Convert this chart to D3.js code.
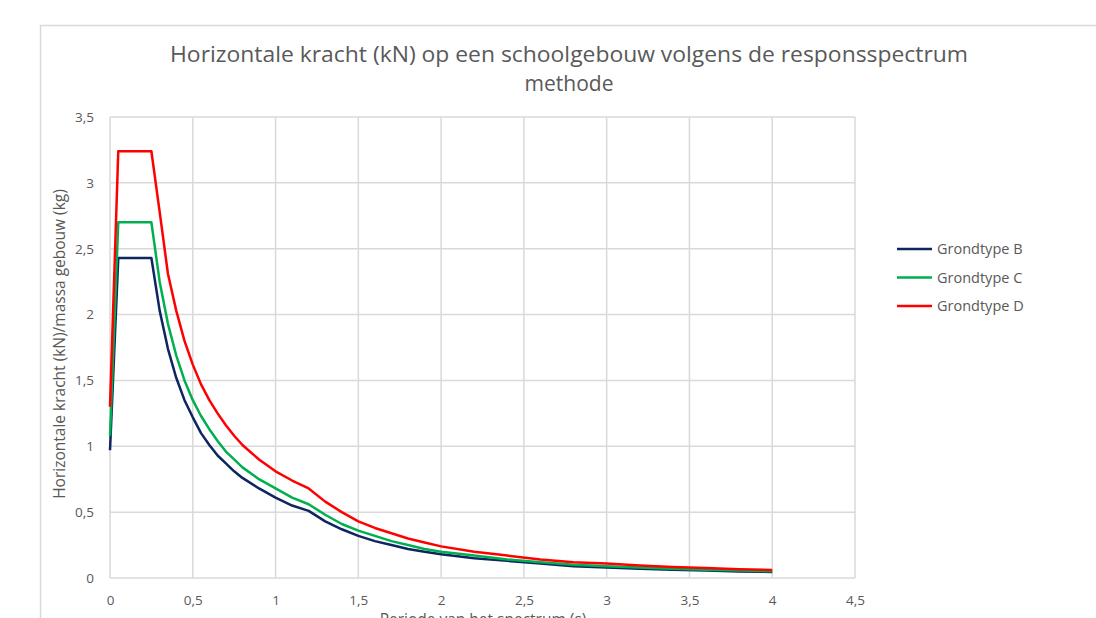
<!DOCTYPE html>
<html>
<head>
<meta charset="utf-8">
<script src="https://cdn.jsdelivr.net/npm/d3@7"></script>
<style>
    body { margin: 0; background: #fff; }
    svg text { font-family: "Open Sans", sans-serif; fill: #595959; }
</style>
</head>
<body>
<script>
// periode T (s)
const periods = [0, 0.05, 0.25, 0.3, 0.35, 0.4, 0.45, 0.5, 0.55, 0.6, 0.65, 0.7, 0.75, 0.8, 0.9,
    1.0, 1.1, 1.2, 1.3, 1.4, 1.5, 1.6, 1.7, 1.8, 1.9, 2.0, 2.2, 2.4, 2.6, 2.8, 3.0, 3.2, 3.4, 3.6, 3.8, 4.0];

// kracht / massa per grondtype
const grondtypeB = [0.97, 2.43, 2.43, 2.03, 1.74, 1.52, 1.35, 1.22, 1.10, 1.01, 0.93, 0.87, 0.81, 0.76, 0.68,
    0.61, 0.55, 0.51, 0.43, 0.37, 0.32, 0.28, 0.25, 0.22, 0.20, 0.18, 0.15, 0.13, 0.11, 0.09, 0.08, 0.07, 0.063, 0.056, 0.050, 0.046];
const grondtypeC = [1.08, 2.70, 2.70, 2.25, 1.93, 1.69, 1.50, 1.35, 1.23, 1.13, 1.04, 0.96, 0.90, 0.84, 0.75,
    0.68, 0.61, 0.56, 0.48, 0.41, 0.36, 0.32, 0.28, 0.25, 0.22, 0.20, 0.17, 0.14, 0.12, 0.10, 0.09, 0.08, 0.070, 0.063, 0.056, 0.051];
const grondtypeD = [1.30, 3.24, 3.24, 2.78, 2.31, 2.03, 1.80, 1.62, 1.47, 1.35, 1.25, 1.16, 1.08, 1.01, 0.90,
    0.81, 0.74, 0.68, 0.58, 0.50, 0.43, 0.38, 0.34, 0.30, 0.27, 0.24, 0.20, 0.17, 0.14, 0.12, 0.11, 0.095, 0.084, 0.075, 0.067, 0.061];

const seriesNames = ["Grondtype B", "Grondtype C", "Grondtype D"];
const seriesColors = ["#0d2560", "#00b050", "#ff0000"];

const xTicks = [0, 0.5, 1, 1.5, 2, 2.5, 3, 3.5, 4, 4.5];
const yTicks = [0, 0.5, 1, 1.5, 2, 2.5, 3, 3.5];

const titleLines = ["Horizontale kracht (kN) op een schoolgebouw volgens de responsspectrum", "methode"];
const xTitle = "Periode van het spectrum (s)";
const yTitle = "Horizontale kracht (kN)/massa gebouw (kg)";

const width = 1096;
const height = 618;
const plot = { left: 110, right: 855, top: 117, bottom: 578 };

// Nederlandse notatie: komma als decimaalteken
const nl = d3.formatLocale({ decimal: ",", thousands: ".", grouping: [3], currency: ["€", ""] });
const fmt = nl.format("~g");

const svg = d3.select("body").append("svg")
    .attr("width", width)
    .attr("height", height);

// rand van het grafiekgebied
svg.append("path")
    .attr("d", `M40.5,${height}V25.5H${width}`)
    .attr("fill", "none")
    .attr("stroke", "#d9d9d9")
    .attr("stroke-width", 1.5);

const x = d3.scaleLinear().domain([0, 4.5]).range([plot.left, plot.right]);
const y = d3.scaleLinear().domain([0, 3.5]).range([plot.bottom, plot.top]);

// rasterlijnen
const grid = svg.append("g").attr("class", "grid");
grid.selectAll("line.h")
    .data(yTicks)
    .enter().append("line")
    .attr("class", "h")
    .attr("x1", plot.left).attr("x2", plot.right)
    .attr("y1", d => y(d)).attr("y2", d => y(d))
    .attr("stroke", "#d9d9d9")
    .attr("stroke-width", 1.5);
grid.selectAll("line.v")
    .data(xTicks)
    .enter().append("line")
    .attr("class", "v")
    .attr("x1", d => x(d)).attr("x2", d => x(d))
    .attr("y1", plot.top).attr("y2", plot.bottom)
    .attr("stroke", "#d9d9d9")
    .attr("stroke-width", 1.5);

// assen (alleen labels)
const xAxis = svg.append("g")
    .attr("transform", `translate(0,${plot.bottom})`)
    .call(d3.axisBottom(x).tickValues(xTicks).tickFormat(fmt).tickSize(0).tickPadding(17));
const yAxis = svg.append("g")
    .attr("transform", `translate(${plot.left},0)`)
    .call(d3.axisLeft(y).tickValues(yTicks).tickFormat(fmt).tickSize(0).tickPadding(16));
[xAxis, yAxis].forEach(a => {
    a.select(".domain").remove();
    a.selectAll("text")
        .style("font-family", '"Open Sans", sans-serif')
        .style("font-size", "13.5px")
        .style("fill", "#595959");
});

// lijnen
const seriesValues = [grondtypeB, grondtypeC, grondtypeD];
const line = d3.line()
    .x((d, i) => x(periods[i]))
    .y(d => y(d));

svg.append("g")
    .attr("class", "series")
    .selectAll("path")
    .data(seriesValues)
    .enter().append("path")
    .attr("d", line)
    .attr("fill", "none")
    .attr("stroke", (d, i) => seriesColors[i])
    .attr("stroke-width", 2.5)
    .attr("stroke-linejoin", "round");

// titel
svg.append("text")
    .attr("x", 569)
    .attr("y", 62)
    .attr("text-anchor", "middle")
    .attr("textLength", 798)
    .attr("lengthAdjust", "spacingAndGlyphs")
    .style("font-size", "21px")
    .text(titleLines[0]);
svg.append("text")
    .attr("x", 569)
    .attr("y", 91)
    .attr("text-anchor", "middle")
    .style("font-size", "21px")
    .text(titleLines[1]);

// astitels
svg.append("text")
    .attr("text-anchor", "middle")
    .attr("transform", "translate(65,344) rotate(-90)")
    .style("font-size", "15.5px")
    .text(yTitle);

// in het origineel valt deze titel half buiten beeld
svg.append("text")
    .attr("text-anchor", "middle")
    .attr("x", 483)
    .attr("y", 625)
    .style("font-size", "15.5px")
    .text(xTitle);

// legenda
const legend = svg.append("g")
    .attr("class", "legend")
    .selectAll("g")
    .data(seriesNames)
    .enter().append("g")
    .attr("transform", (d, i) => `translate(897,${249 + i * 28.5})`);
legend.append("line")
    .attr("x1", 0).attr("x2", 35)
    .attr("stroke", (d, i) => seriesColors[i])
    .attr("stroke-width", 2.5);
legend.append("text")
    .attr("x", 40)
    .attr("dy", "0.35em")
    .style("font-size", "14.5px")
    .text(d => d);
</script>
</body>
</html>
